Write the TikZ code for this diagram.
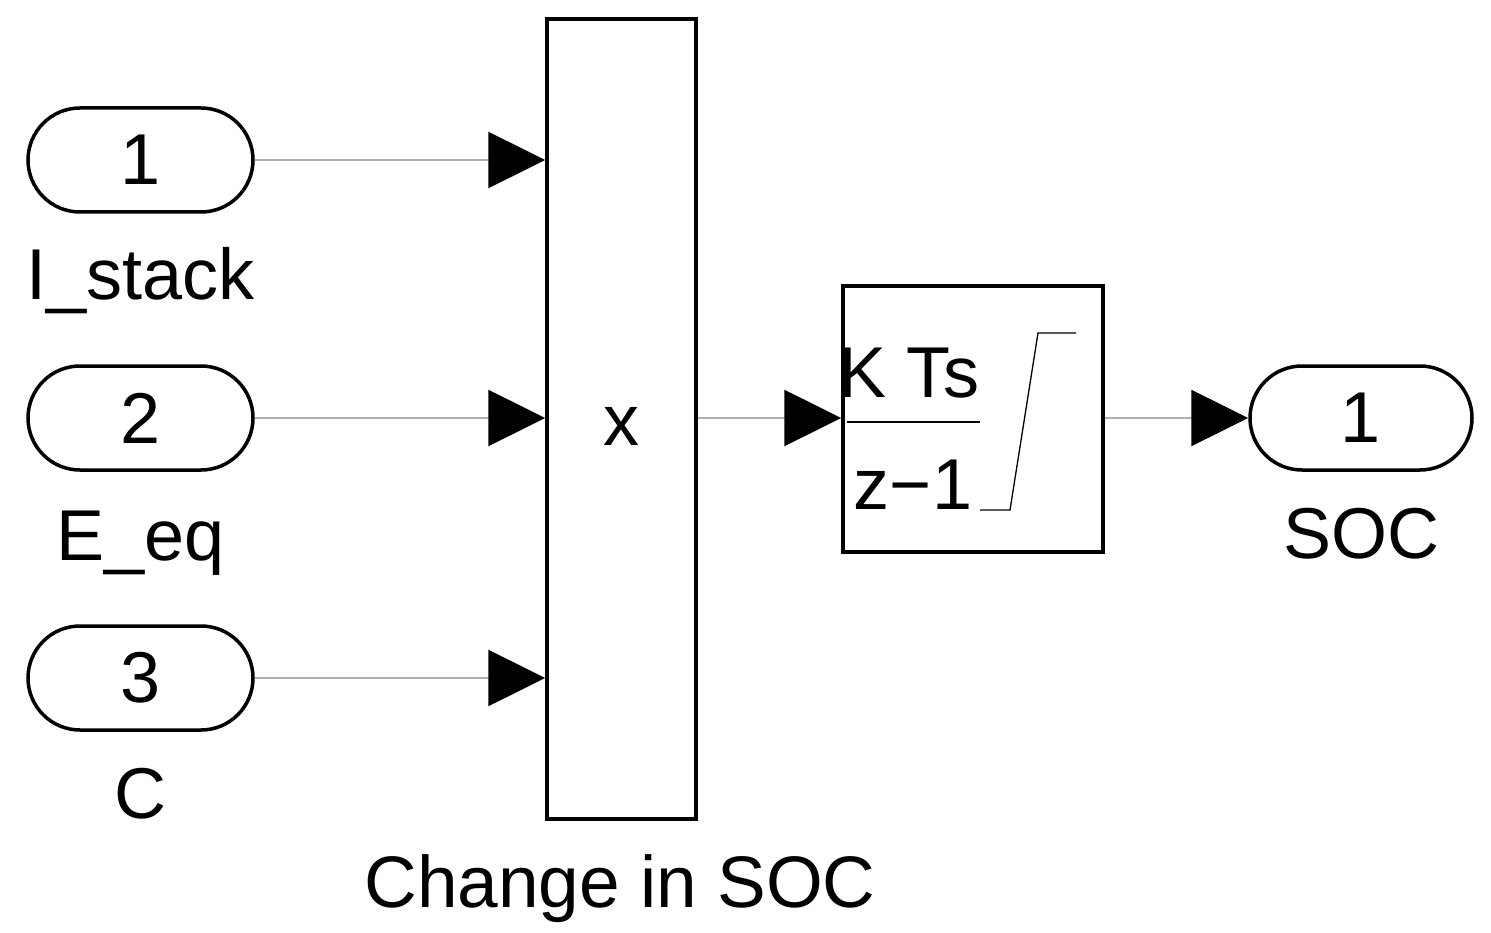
\documentclass[tikz,border=0pt]{standalone}
\usepackage{fontspec}
\setmainfont{Liberation Sans}
\usetikzlibrary{arrows.meta}
\definecolor{wiregray}{RGB}{175,175,175}
\tikzset{
  blk/.style={draw=black, line width=3.5pt, fill=white, inner sep=0pt},
  port/.style={blk, rounded corners=52pt, minimum width=225pt, minimum height=104pt, font=\fontsize{72}{86}\selectfont},
  lbl/.style={inner sep=0pt, anchor=base, font=\fontsize{72}{86}\selectfont},
  wire/.style={draw=wiregray, line width=2.5pt, -{Triangle[length=57pt,width=56pt,color=black,fill=black]}},
}
\begin{document}
\begin{tikzpicture}[x=1pt,y=-1pt]
\useasboundingbox (0,0) rectangle (1491,933);
% inports
\node[port] (in1) at (140.5,160) {1};
\node[port] (in2) at (140.5,418) {2};
\node[port] (in3) at (140.5,678) {3};
\node[lbl] (l1) at (140.5,300) {I\_stack};
\node[lbl] (l2) at (140.5,560) {E\_eq};
\node[lbl] (l3) at (140.5,818) {C};
% product block
\node[blk, minimum width=149pt, minimum height=800pt] (mux) at (621.5,419) {};
\node[lbl] (mx) at (621,445) {x};
\node[lbl, font=\fontsize{73}{86}\selectfont] (ml) at (620,907) {Change in SOC};
% integrator
\node[blk, minimum width=260pt, minimum height=266pt] (int) at (973,419) {};
\node[lbl, font=\fontsize{72}{84}\selectfont] (num) at (909,397) {K Ts};
\node[lbl, font=\fontsize{72}{84}\selectfont] (den) at (913,509) {z−1};
\coordinate (fb1) at (847,422);
\coordinate (fb2) at (980,422);
\draw[line width=2.5pt] (fb1) -- (fb2);
\coordinate (s1) at (980,510);
\coordinate (s2) at (1010,510);
\coordinate (s3) at (1038,333);
\coordinate (s4) at (1076,333);
\draw[line width=1.3pt] (s1) -- (s2) -- (s3) -- (s4);
% outport
\node[port, minimum width=222pt] (out) at (1361,418) {1};
\node[lbl] (lo) at (1361,558) {SOC};
% wires
\draw[wire] (in1.east) -- (mux.west |- in1.east);
\draw[wire] (in2.east) -- (mux.west |- in2.east);
\draw[wire] (in3.east) -- (mux.west |- in3.east);
\draw[wire] (mux.east |- in2.east) -- (int.west |- in2.east);
\draw[wire] (int.east |- out.west) -- (out.west);
\end{tikzpicture}
\end{document}
